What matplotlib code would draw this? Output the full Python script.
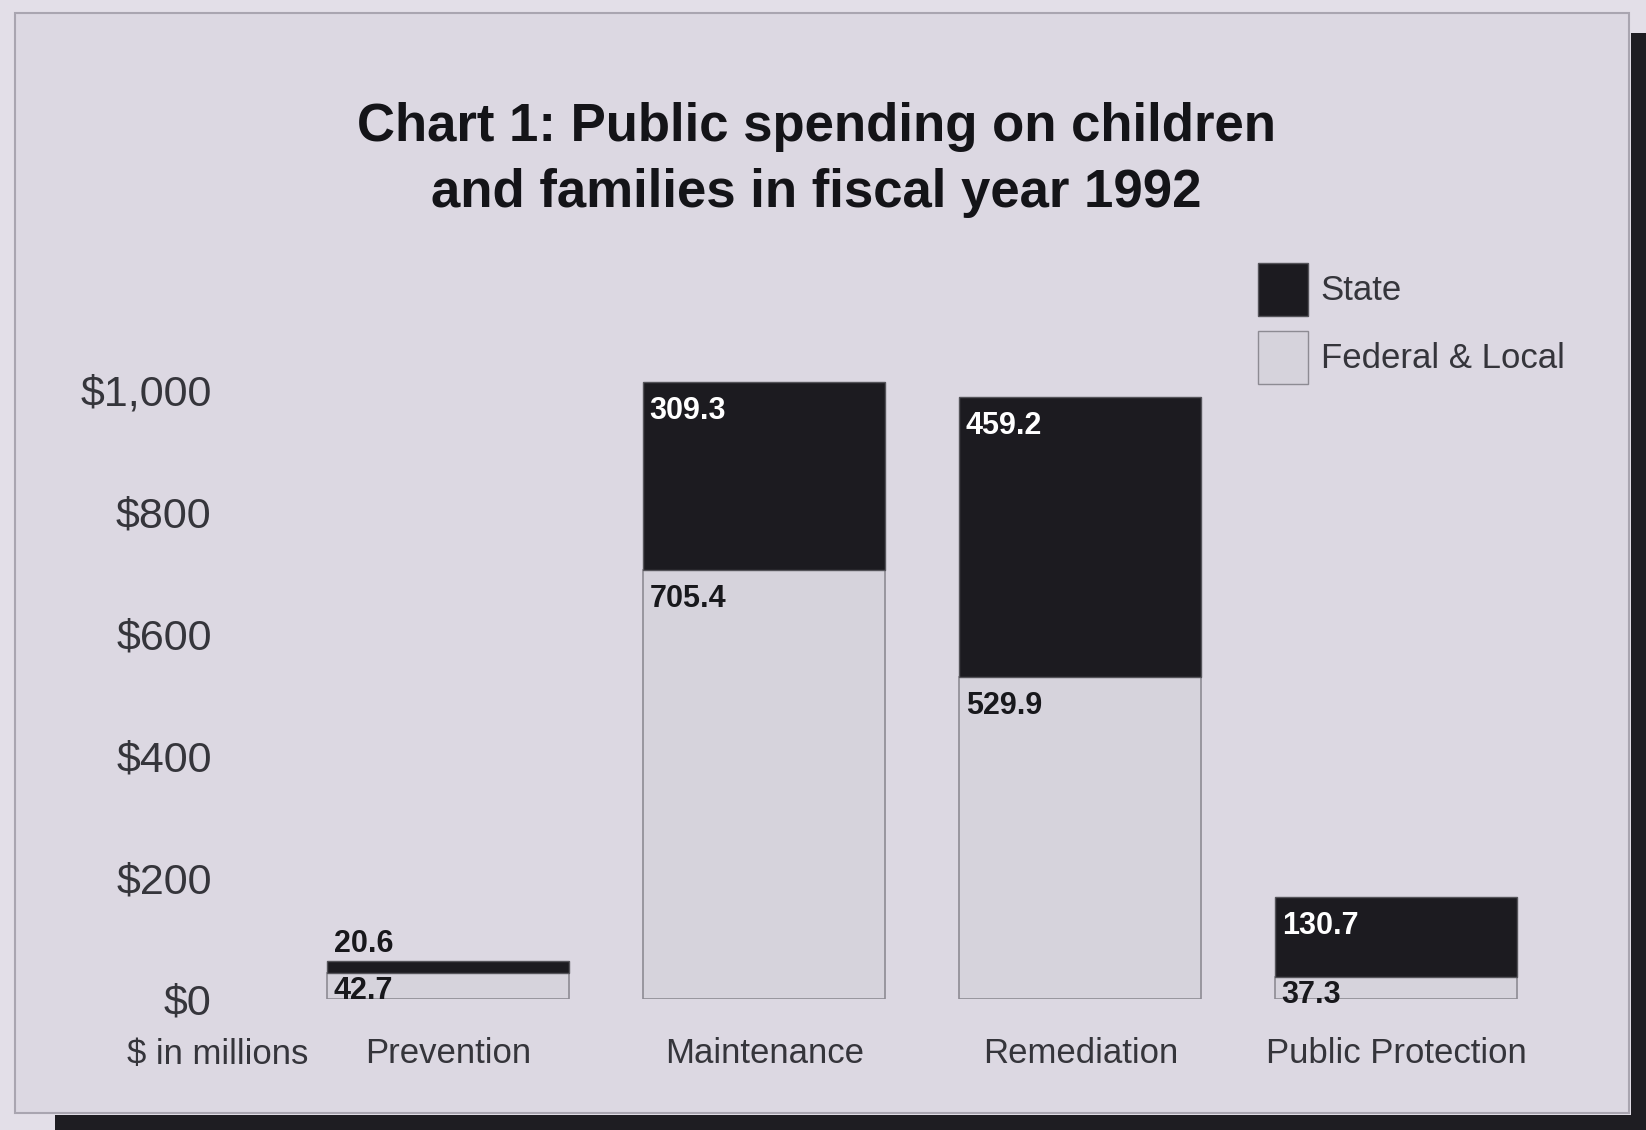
#!/usr/bin/env python3

import matplotlib
matplotlib.use('Agg')
import matplotlib.pyplot as plt
from matplotlib.patches import Rectangle, Patch

# data (millions of dollars, fiscal year 1992)
categories = ['Prevention', 'Maintenance', 'Remediation', 'Public Protection']
federal_local = [42.7, 705.4, 529.9, 37.3]
state = [20.6, 309.3, 459.2, 130.7]
y_ticks = [0, 200, 400, 600, 800, 1000]
y_tick_labels = ['$0', '$200', '$400', '$600', '$800', '$1,000']

PAGE = '#dcd8e2'
DARK = '#1c1b20'
LIGHT = '#d6d3dc'
TEXT = '#35353b'


def main():
    plt.rcParams['font.family'] = ['Liberation Sans', 'DejaVu Sans']
    W, H = 1646, 1130
    fig = plt.figure(figsize=(W / 100, H / 100), dpi=100, facecolor='#e3dfe8')

    # scanned page + dark shadow behind it
    def px_rect(x0, y0, x1, y1, **kw):
        fig.patches.append(Rectangle((x0 / W, 1 - y1 / H), (x1 - x0) / W, (y1 - y0) / H,
                                     transform=fig.transFigure, **kw))
    px_rect(1631, 33, W, H, facecolor='#1e1d22', edgecolor='none', zorder=-3)
    px_rect(55, 1115, W, H, facecolor='#1e1d22', edgecolor='none', zorder=-3)
    px_rect(15, 13, 1629, 1113, facecolor=PAGE, edgecolor='#a9a5b0', lw=1.5, zorder=-2)

    fig.text(0.496, 1 - 160 / H, 'Chart 1: Public spending on children\nand families in fiscal year 1992',
             ha='center', va='center', fontsize=38, fontweight='bold', color='#141418',
             linespacing=1.42)

    ax = fig.add_axes([0.1379, 0.1157, 0.8256, 0.5926])
    ax.set_facecolor('none')
    ax.set_xlim(-0.7, 3.6)
    ax.set_ylim(0, 1100)
    for s in ax.spines.values():
        s.set_visible(False)

    x = list(range(len(categories)))
    w = 0.765
    ax.bar(x, federal_local, w, color=LIGHT, edgecolor='#8d8b93', lw=1.2, zorder=2)
    ax.bar(x, state, w, bottom=federal_local, color=DARK, edgecolor='#55545a', lw=1.0, zorder=2)

    # value labels, top-left of each segment
    for i in x:
        left = i - w / 2
        fl_top = federal_local[i]
        tot = federal_local[i] + state[i]
        # federal & local
        off = -21 if fl_top > 60 else -13
        ax.annotate(f'{federal_local[i]:.1f}', (left, fl_top), xytext=(4.5, off),
                    textcoords='offset points', ha='left', va='center',
                    fontsize=22, fontweight='bold', color='#18181c', zorder=3)
        # state
        if state[i] > 60:
            ax.annotate(f'{state[i]:.1f}', (left, tot), xytext=(4.5, -21),
                        textcoords='offset points', ha='left', va='center',
                        fontsize=22, fontweight='bold', color='white', zorder=3)
        else:
            ax.annotate(f'{state[i]:.1f}', (left, tot), xytext=(4.5, 12),
                        textcoords='offset points', ha='left', va='center',
                        fontsize=22, fontweight='bold', color='#18181c', zorder=3)

    ax.set_yticks(y_ticks)
    ax.set_yticklabels(y_tick_labels)
    ax.tick_params(axis='y', length=0, pad=11, labelsize=31, labelcolor=TEXT)
    ax.set_xticks(x)
    ax.set_xticklabels(categories)
    ax.tick_params(axis='x', length=0, pad=27, labelsize=25, labelcolor=TEXT)
    ax.annotate('$ in millions', (-0.73, 0), xytext=(0, -28),
                textcoords='offset points', ha='center', va='top',
                fontsize=25, color=TEXT, annotation_clip=False)

    handles = [Patch(facecolor=DARK, edgecolor='#55545a', label='State'),
               Patch(facecolor=LIGHT, edgecolor='#8d8b93', label='Federal & Local')]
    fig.legend(handles=handles, loc='upper left', bbox_to_anchor=(1258 / W, 1 - 263 / H),
               frameon=False, fontsize=25, handlelength=1.45, handleheight=1.95,
               handletextpad=0.36, labelspacing=0.45, borderpad=0, borderaxespad=0,
               labelcolor=TEXT)

    fig.savefig('out.png', dpi=100, facecolor=fig.get_facecolor())


if __name__ == '__main__':
    main()
